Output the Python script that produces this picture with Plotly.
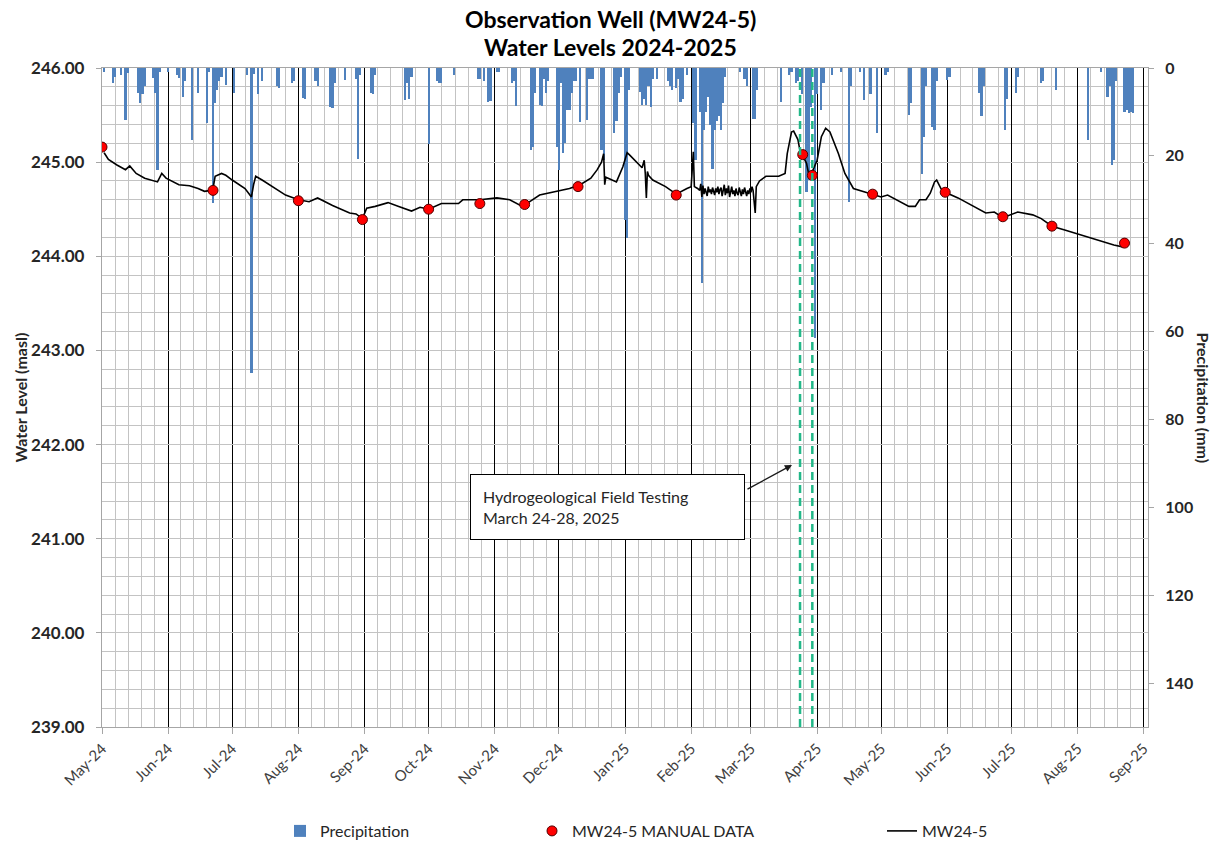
import pandas as pd
import plotly.graph_objects as go

# ---------------- data ----------------
precip_dates = [
    "2024-05-02", "2024-05-06", "2024-05-07", "2024-05-10", "2024-05-12", "2024-05-13",
    "2024-05-18", "2024-05-19", "2024-05-20", "2024-05-21", "2024-05-25", "2024-05-26",
    "2024-05-27", "2024-05-28", "2024-06-01", "2024-06-05", "2024-06-06", "2024-06-08",
    "2024-06-09", "2024-06-12", "2024-06-15", "2024-06-19", "2024-06-20", "2024-06-22",
    "2024-06-23", "2024-06-24", "2024-06-25", "2024-06-26", "2024-06-28", "2024-07-02",
    "2024-07-08", "2024-07-10", "2024-07-11", "2024-07-13", "2024-07-15", "2024-07-22",
    "2024-07-23", "2024-07-29", "2024-07-30", "2024-08-03", "2024-08-04", "2024-08-09",
    "2024-08-10", "2024-08-16", "2024-08-17", "2024-08-18", "2024-08-23", "2024-08-28",
    "2024-08-29", "2024-08-30", "2024-09-04", "2024-09-05", "2024-09-06", "2024-09-20",
    "2024-09-21", "2024-09-22", "2024-09-23", "2024-10-01", "2024-10-05", "2024-10-06",
    "2024-10-07", "2024-10-13", "2024-10-24", "2024-10-25", "2024-10-27", "2024-10-29",
    "2024-10-30", "2024-11-02", "2024-11-03", "2024-11-09", "2024-11-10", "2024-11-11",
    "2024-11-18", "2024-11-19", "2024-11-20", "2024-11-22", "2024-11-23", "2024-11-24",
    "2024-11-25", "2024-11-26", "2024-11-30", "2024-12-01", "2024-12-02", "2024-12-03",
    "2024-12-04", "2024-12-05", "2024-12-06", "2024-12-07", "2024-12-08", "2024-12-09",
    "2024-12-11", "2024-12-14", "2024-12-15", "2024-12-16", "2024-12-17", "2024-12-21",
    "2024-12-22", "2024-12-27", "2024-12-28", "2024-12-29", "2024-12-30", "2025-01-01",
    "2025-01-02", "2025-01-03", "2025-01-08", "2025-01-09", "2025-01-10", "2025-01-11",
    "2025-01-12", "2025-01-13", "2025-01-14", "2025-01-16", "2025-01-21", "2025-01-22",
    "2025-01-23", "2025-01-25", "2025-01-26", "2025-01-27", "2025-01-28", "2025-01-30",
    "2025-02-02", "2025-02-03", "2025-02-05", "2025-02-06", "2025-02-07", "2025-02-08",
    "2025-02-09", "2025-02-10", "2025-02-11", "2025-02-12", "2025-02-13", "2025-02-14",
    "2025-02-15", "2025-02-16", "2025-02-17", "2025-02-24", "2025-02-26", "2025-02-27",
    "2025-03-02", "2025-03-03", "2025-03-04", "2025-03-15", "2025-03-19", "2025-03-20",
    "2025-03-22", "2025-03-23", "2025-03-25", "2025-03-27", "2025-03-28", "2025-03-29",
    "2025-03-31", "2025-04-01", "2025-04-03", "2025-04-04", "2025-04-08", "2025-04-12",
    "2025-04-16", "2025-04-17", "2025-04-21", "2025-04-23", "2025-04-26", "2025-04-29",
    "2025-05-03", "2025-05-04", "2025-05-14", "2025-05-15", "2025-05-20", "2025-05-21",
    "2025-05-22", "2025-05-25", "2025-05-26", "2025-05-27", "2025-06-01", "2025-06-02",
    "2025-06-16", "2025-06-17", "2025-06-18", "2025-06-28", "2025-06-29", "2025-07-03",
    "2025-07-04", "2025-07-15", "2025-07-16", "2025-07-22", "2025-08-06", "2025-08-12",
    "2025-08-15", "2025-08-16", "2025-08-17", "2025-08-18", "2025-08-19", "2025-08-23",
    "2025-08-24", "2025-08-25", "2025-08-26", "2025-08-27",
]
precip_mm = [
    0.8, 3.5, 2.0, 1.5, 11.8, 1.2,
    5.8, 8.0, 6.0, 4.2, 2.3, 5.8,
    23.2, 1.0, 0.8, 1.6, 2.3, 6.5,
    3.0, 16.4, 5.8, 12.6, 1.0, 30.8,
    8.0, 5.0, 3.0, 2.0, 3.9, 5.8,
    1.5, 69.5, 1.3, 6.0, 3.0, 4.0,
    4.5, 3.3, 3.0, 6.9, 7.0, 3.0,
    4.0, 8.8, 9.2, 3.3, 2.7, 2.5,
    20.6, 1.5, 5.8, 6.0, 1.5, 7.3,
    3.3, 7.0, 2.0, 17.2, 3.0, 3.5,
    3.3, 1.5, 2.5, 2.5, 3.0, 7.7,
    7.5, 1.0, 1.0, 3.3, 3.0, 8.6,
    18.7, 18.0, 5.8, 8.4, 8.6, 2.5,
    5.8, 3.0, 17.9, 23.2, 3.4, 19.4,
    17.0, 9.6, 9.6, 5.8, 3.0, 3.0,
    12.2, 11.8, 2.5, 2.5, 2.5, 18.7,
    21.0, 14.9, 12.0, 5.8, 2.0, 34.5,
    38.6, 5.0, 5.5, 8.4, 7.0, 8.4,
    4.0, 8.8, 2.5, 2.5, 3.0, 4.0,
    5.0, 4.5, 2.5, 7.7, 7.0, 1.5,
    12.6, 21.0, 10.0, 49.0, 14.0, 10.0,
    6.5, 13.0, 23.0, 14.0, 12.0, 11.0,
    14.0, 8.0, 2.0, 1.0, 2.6, 4.0,
    11.5, 11.5, 5.0, 7.7, 1.5, 1.0,
    3.5, 3.0, 6.0, 28.2, 25.5, 8.8,
    61.5, 6.0, 9.6, 3.4, 1.5, 0.8,
    30.4, 4.0, 1.0, 7.3, 6.0, 14.9,
    1.5, 1.0, 10.7, 8.0, 24.2, 15.6,
    4.0, 13.5, 14.0, 3.0, 2.7, 2.0,
    5.8, 11.0, 4.0, 14.0, 7.0, 5.8,
    2.0, 3.5, 3.0, 5.0, 16.4, 0.8,
    6.7, 4.0, 22.1, 21.0, 3.0, 10.0,
    9.5, 10.3, 10.0, 10.3,
]

manual_dates = [
    "2024-05-01", "2024-06-22", "2024-08-01", "2024-08-31", "2024-10-01", "2024-10-25",
    "2024-11-15", "2024-12-10", "2025-01-25", "2025-03-25 06:00", "2025-03-29 18:00", "2025-04-27",
    "2025-05-31", "2025-06-27", "2025-07-20", "2025-08-23",
]
manual_levels = [
    245.16, 244.70, 244.59, 244.39, 244.50, 244.56,
    244.55, 244.74, 244.65, 245.08, 244.86, 244.66,
    244.68, 244.42, 244.32, 244.14,
]

logger_dates = [
    "2024-05-02", "2024-05-04", "2024-05-08", "2024-05-12", "2024-05-14", "2024-05-17",
    "2024-05-21", "2024-05-25", "2024-05-27", "2024-05-29", "2024-05-31", "2024-06-06",
    "2024-06-11", "2024-06-15", "2024-06-18", "2024-06-21", "2024-06-22", "2024-06-23",
    "2024-06-26", "2024-06-28", "2024-07-01", "2024-07-07", "2024-07-10", "2024-07-11",
    "2024-07-12", "2024-07-15", "2024-07-21", "2024-07-26", "2024-08-01", "2024-08-06",
    "2024-08-10", "2024-08-17", "2024-08-25", "2024-08-28", "2024-08-31", "2024-09-02",
    "2024-09-06", "2024-09-12", "2024-09-17", "2024-09-23", "2024-09-27", "2024-10-01",
    "2024-10-07", "2024-10-15", "2024-10-17", "2024-10-25", "2024-11-02", "2024-11-08",
    "2024-11-13", "2024-11-16", "2024-11-22", "2024-11-30", "2024-12-06", "2024-12-11",
    "2024-12-16", "2024-12-19", "2024-12-21", "2024-12-22", "2024-12-22 12:00", "2024-12-23",
    "2024-12-25", "2024-12-28", "2024-12-31", "2025-01-02", "2025-01-03", "2025-01-07",
    "2025-01-09", "2025-01-10", "2025-01-10 12:00", "2025-01-11", "2025-01-11 12:00", "2025-01-12",
    "2025-01-14", "2025-01-20", "2025-01-25", "2025-01-30", "2025-02-01", "2025-02-02",
    "2025-02-02 12:00", "2025-02-04",
    "2025-02-05", "2025-02-05 12:00", "2025-02-06", "2025-02-06 12:00", "2025-02-07", "2025-02-07 12:00",
    "2025-02-08", "2025-02-08 12:00", "2025-02-09", "2025-02-09 12:00", "2025-02-10", "2025-02-10 12:00",
    "2025-02-11", "2025-02-11 12:00", "2025-02-12", "2025-02-12 12:00", "2025-02-13", "2025-02-13 12:00",
    "2025-02-14", "2025-02-14 12:00", "2025-02-15", "2025-02-15 12:00", "2025-02-16", "2025-02-16 12:00",
    "2025-02-17", "2025-02-17 12:00", "2025-02-18", "2025-02-18 12:00", "2025-02-19", "2025-02-19 12:00",
    "2025-02-20", "2025-02-20 12:00", "2025-02-21", "2025-02-21 12:00", "2025-02-22", "2025-02-22 12:00",
    "2025-02-23", "2025-02-23 12:00", "2025-02-24", "2025-02-24 12:00", "2025-02-25", "2025-02-25 12:00",
    "2025-02-26", "2025-02-26 12:00", "2025-02-27", "2025-02-27 12:00", "2025-02-28", "2025-02-28 12:00",
    "2025-03-01", "2025-03-01 12:00",
    "2025-03-02", "2025-03-03", "2025-03-03 12:00", "2025-03-05", "2025-03-08", "2025-03-14",
    "2025-03-17", "2025-03-18", "2025-03-20", "2025-03-21", "2025-03-23", "2025-03-24",
    "2025-03-25", "2025-03-27", "2025-03-28", "2025-03-29", "2025-04-01", "2025-04-03",
    "2025-04-05", "2025-04-07", "2025-04-11", "2025-04-14", "2025-04-18", "2025-04-22",
    "2025-04-26", "2025-05-01", "2025-05-04", "2025-05-08", "2025-05-14", "2025-05-17",
    "2025-05-19", "2025-05-22", "2025-05-24", "2025-05-26", "2025-05-27", "2025-05-29",
    "2025-05-31", "2025-06-06", "2025-06-11", "2025-06-19", "2025-06-23", "2025-06-27",
    "2025-07-04", "2025-07-11", "2025-07-15", "2025-07-20", "2025-07-26", "2025-08-02",
    "2025-08-10", "2025-08-18", "2025-08-22", "2025-08-23",
]
logger_levels = [
    245.10, 245.03, 244.97, 244.92, 244.96, 244.88,
    244.83, 244.80, 244.79, 244.88, 244.83, 244.76,
    244.75, 244.72, 244.69, 244.70, 244.72, 244.85,
    244.88, 244.86, 244.81, 244.72, 244.63, 244.76,
    244.85, 244.81, 244.72, 244.65, 244.60, 244.58,
    244.62, 244.54, 244.46, 244.45, 244.40, 244.51,
    244.53, 244.57, 244.53, 244.48, 244.52, 244.50,
    244.56, 244.56, 244.60, 244.60, 244.62, 244.60,
    244.54, 244.56, 244.65, 244.69, 244.72, 244.76,
    244.83, 244.92, 245.00, 245.09, 244.76, 244.84,
    244.82, 244.79, 244.95, 245.10, 245.08, 244.99,
    244.94, 245.02, 244.88, 244.62, 244.90, 244.86,
    244.81, 244.74, 244.66, 244.72, 244.74, 245.11,
    244.74, 244.72,
    244.70, 244.77, 244.63, 244.75, 244.66, 244.72,
    244.69, 244.64, 244.74, 244.68, 244.71, 244.66,
    244.73, 244.69, 244.65, 244.72, 244.68, 244.74,
    244.66, 244.71, 244.73, 244.64, 244.70, 244.76,
    244.65, 244.72, 244.67, 244.75, 244.63, 244.71,
    244.74, 244.66, 244.70, 244.64, 244.72, 244.67,
    244.65, 244.73, 244.68, 244.64, 244.71, 244.66,
    244.73, 244.67, 244.64, 244.70, 244.66, 244.72,
    244.68, 244.74,
    244.70, 244.46, 244.74, 244.80, 244.85, 244.85,
    244.88, 245.09, 245.32, 245.33, 245.24, 245.12,
    245.08, 244.99, 244.88, 244.86, 245.02, 245.27,
    245.36, 245.32, 245.09, 244.88, 244.72, 244.69,
    244.66, 244.63, 244.65, 244.60, 244.53, 244.53,
    244.60, 244.60, 244.67, 244.79, 244.81, 244.72,
    244.68, 244.62, 244.56, 244.46, 244.47, 244.41,
    244.47, 244.44, 244.40, 244.32, 244.28, 244.23,
    244.17, 244.12, 244.10, 244.11,
]

field_test_window = ["2025-03-24", "2025-03-29 18:00"]
x_start, x_end = "2024-05-01", "2025-09-03"
level_range = [239, 246]
precip_range = [150, 0]

# ---------------- style ----------------
FONT = "Lato"
GRID = "#C3C3C3"
AXIS = "#A6A6A6"
TXT = "#262626"

# the page body adds an 8 px margin; all target positions below are page pixels
OFF = 8
W, H = 1228 - OFF, 844 - OFF
plot_l, plot_r, plot_t, plot_b = 102, 1148, 68, 727   # page pixels
pw, ph = plot_r - plot_l, plot_b - plot_t


def px_x(x):
    return (x - plot_l) / pw


def px_y(y):
    return (plot_b - y) / ph


# minor vertical grid: each month split into five equal parts
months = pd.date_range("2024-05-01", "2025-10-01", freq="MS")
minor_vals = []
for a, b in zip(months[:-1], months[1:]):
    step = (b - a) / 5
    for k in range(1, 5):
        minor_vals.append(a + k * step)

fig = go.Figure()

fig.add_trace(go.Bar(
    x=precip_dates, y=precip_mm, name="Precipitation", yaxis="y",
    marker=dict(color="#4F81BD", line=dict(width=0)),
    width=86400000, legend="legend",
))
fig.add_trace(go.Scatter(
    x=logger_dates, y=logger_levels, name="MW24-5", mode="lines", yaxis="y2",
    line=dict(color="black", width=1.6), legend="legend3",
))
fig.add_trace(go.Scatter(
    x=manual_dates, y=manual_levels, name="MW24-5 MANUAL DATA", mode="markers", yaxis="y2",
    marker=dict(color="#FF0000", size=10, line=dict(color="#500000", width=1)),
    legend="legend2",
))

for d in field_test_window:
    fig.add_shape(type="line", xref="x", yref="paper", x0=d, x1=d, y0=0, y1=1,
                  line=dict(color="#22B888", width=2.5, dash="8px,5px"))

fig.update_layout(
    width=W, height=H,
    margin=dict(l=plot_l - OFF, r=W - (plot_r - OFF), t=plot_t - OFF,
                b=H - (plot_b - OFF), autoexpand=False),
    paper_bgcolor="white", plot_bgcolor="white",
    font=dict(family=FONT, color=TXT),
    barmode="overlay", bargap=0,
    xaxis=dict(
        type="date", range=[x_start, x_end],
        tick0="2024-05-01", dtick="M1", tickformat="%b-%y", tickangle=-45,
        tickfont=dict(size=15, color="#404040"),
        showgrid=True, gridcolor="black", gridwidth=1.3,
        ticks="outside", ticklen=6, tickcolor=AXIS,
        showline=True, linecolor=AXIS, linewidth=1.3, mirror=True,
        zeroline=False,
        minor=dict(tickmode="array", tickvals=minor_vals, showgrid=True,
                   gridcolor=GRID, gridwidth=1.3, ticks=""),
    ),
    yaxis=dict(
        side="right", range=precip_range, dtick=20, showgrid=False, zeroline=False,
        ticks="outside", ticklen=5, tickcolor=AXIS, ticklabelstandoff=8,
        showline=True, linecolor=AXIS, linewidth=1.3,
        tickfont=dict(size=16, color=TXT, weight="bold"),
    ),
    yaxis2=dict(
        side="left", overlaying="y", anchor="x", range=level_range, dtick=1,
        tickformat=".2f", zeroline=False,
        showgrid=True, gridcolor=GRID, gridwidth=1.3,
        minor=dict(dtick=0.2, showgrid=True, gridcolor=GRID, gridwidth=1.3, ticks=""),
        ticks="outside", ticklen=5, tickcolor=AXIS, ticklabelstandoff=8,
        showline=True, linecolor=AXIS, linewidth=1.3,
        tickfont=dict(size=17, color=TXT, weight="bold"),
    ),
    legend=dict(orientation="h", x=px_x(280), y=px_y(831), xanchor="left", yanchor="middle",
                font=dict(size=16, color=TXT), bgcolor="rgba(0,0,0,0)"),
    legend2=dict(orientation="h", x=px_x(532), y=px_y(831), xanchor="left", yanchor="middle",
                 font=dict(size=16, color=TXT), bgcolor="rgba(0,0,0,0)"),
    legend3=dict(orientation="h", x=px_x(882), y=px_y(831), xanchor="left", yanchor="middle",
                 font=dict(size=16, color=TXT), bgcolor="rgba(0,0,0,0)"),
    showlegend=True,
)

# title as two text lines
fig.add_annotation(text="<b>Observation Well (MW24-5)</b>", xref="paper", yref="paper",
                   x=px_x(610), y=px_y(19), xanchor="center", yanchor="middle",
                   showarrow=False, font=dict(size=23, color="black"))
fig.add_annotation(text="<b>Water Levels 2024-2025</b>", xref="paper", yref="paper",
                   x=px_x(610), y=px_y(47), xanchor="center", yanchor="middle",
                   showarrow=False, font=dict(size=23, color="black"))

fig.add_annotation(text="<b>Water Level (masl)</b>", xref="paper", yref="paper",
                   x=px_x(20), y=0.5, xanchor="center", yanchor="middle",
                   textangle=-90, showarrow=False, font=dict(size=16, color=TXT))
fig.add_annotation(text="<b>Precipitation (mm)</b>", xref="paper", yref="paper",
                   x=px_x(1203), y=0.5, xanchor="center", yanchor="middle",
                   textangle=90, showarrow=False, font=dict(size=16, color=TXT))
fig.add_annotation(text="Hydrogeological Field Testing<br>March 24-28, 2025",
                   xref="paper", yref="paper", x=px_x(607.5), y=px_y(507),
                   xanchor="center", yanchor="middle",
                   showarrow=False, align="left", width=249, height=40,
                   bgcolor="white", bordercolor="black", borderwidth=1, borderpad=12,
                   font=dict(size=16, color=TXT))
fig.add_annotation(text="", xref="paper", yref="paper", x=px_x(792), y=px_y(465),
                   ax=-46, ay=25, showarrow=True, arrowhead=2, arrowsize=1.1,
                   arrowwidth=1.3, arrowcolor="#1a1a1a", standoff=0)

fig.write_html("out.html")
